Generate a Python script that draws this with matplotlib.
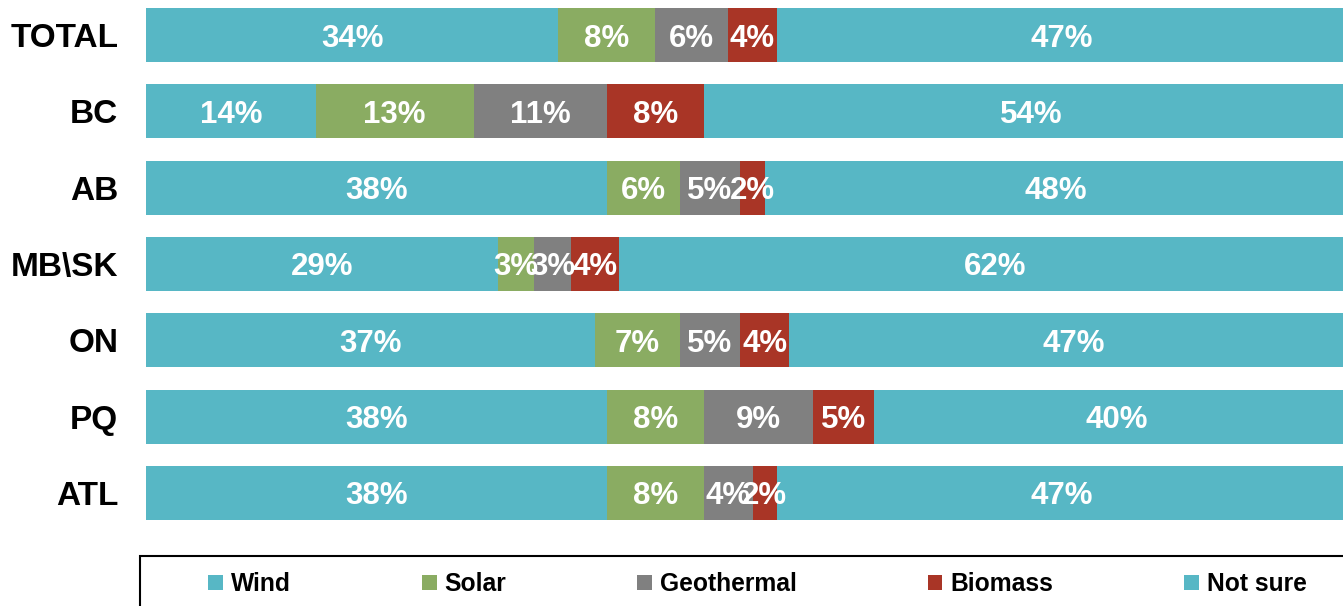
import numpy as np
import matplotlib.pyplot as plt
from matplotlib.patches import Patch, Rectangle

plt.rcParams['font.family'] = ['Liberation Sans', 'DejaVu Sans']
plt.rcParams['font.weight'] = 'bold'

# dados
categorias = ['TOTAL', 'BC', 'AB', 'MB\\SK', 'ON', 'PQ', 'ATL']
wind = [34, 14, 38, 29, 37, 38, 38]
solar = [8, 13, 6, 3, 7, 8, 8]
geothermal = [6, 11, 5, 3, 5, 9, 4]
biomass = [4, 8, 2, 4, 4, 5, 2]
not_sure = [47, 54, 48, 62, 47, 40, 47]

series = ['Wind', 'Solar', 'Geothermal', 'Biomass', 'Not sure']
cores = ['#57B7C5', '#8AAC62', '#808080', '#A93526', '#57B7C5']

valores = np.array([wind, solar, geothermal, biomass, not_sure], dtype=float)

fig = plt.figure(figsize=(13.43, 6.06), dpi=100)
# area do grafico vai um pouco alem da borda direita (como no original)
ax = fig.add_axes([146 / 1343, 1 - 531 / 606, 1213 / 1343, 534 / 606])

y = np.arange(len(categorias))
esquerda = np.zeros(len(categorias))
for i, nome in enumerate(series):
    ax.barh(y, valores[i], left=esquerda, height=0.708, color=cores[i], label=nome)
    for j in range(len(categorias)):
        ax.text(esquerda[j] + valores[i][j] / 2, y[j], f"{int(valores[i][j])}%",
                ha='center', va='center_baseline', color='white', fontsize=22.5,
                fontweight='bold')
    esquerda += valores[i]

ax.set_xlim(0, 100)
ax.set_ylim(len(categorias) - 0.5, -0.5)
ax.set_yticks(y)
ax.set_yticklabels(categorias, fontsize=24, fontweight='bold')
ax.tick_params(axis='y', length=0, pad=20)
ax.set_xticks([])
for s in ax.spines.values():
    s.set_visible(False)

# legenda
fig.patches.append(Rectangle((140 / 1343, -0.1), 1.0, 0.1 + 50 / 606,
                             transform=fig.transFigure, fill=False,
                             ec='black', lw=1.5))
handles = [Patch(facecolor=c) for c in cores]
fig.legend(handles, series, loc='center left',
           bbox_to_anchor=(196 / 1343, 1 - 584 / 606), ncol=5,
           frameon=False, borderpad=0,
           handlelength=0.6, handleheight=0.6, handletextpad=0.33,
           columnspacing=5.32, prop={'weight': 'bold', 'size': 17.7})

plt.savefig('out.png', dpi=100)
